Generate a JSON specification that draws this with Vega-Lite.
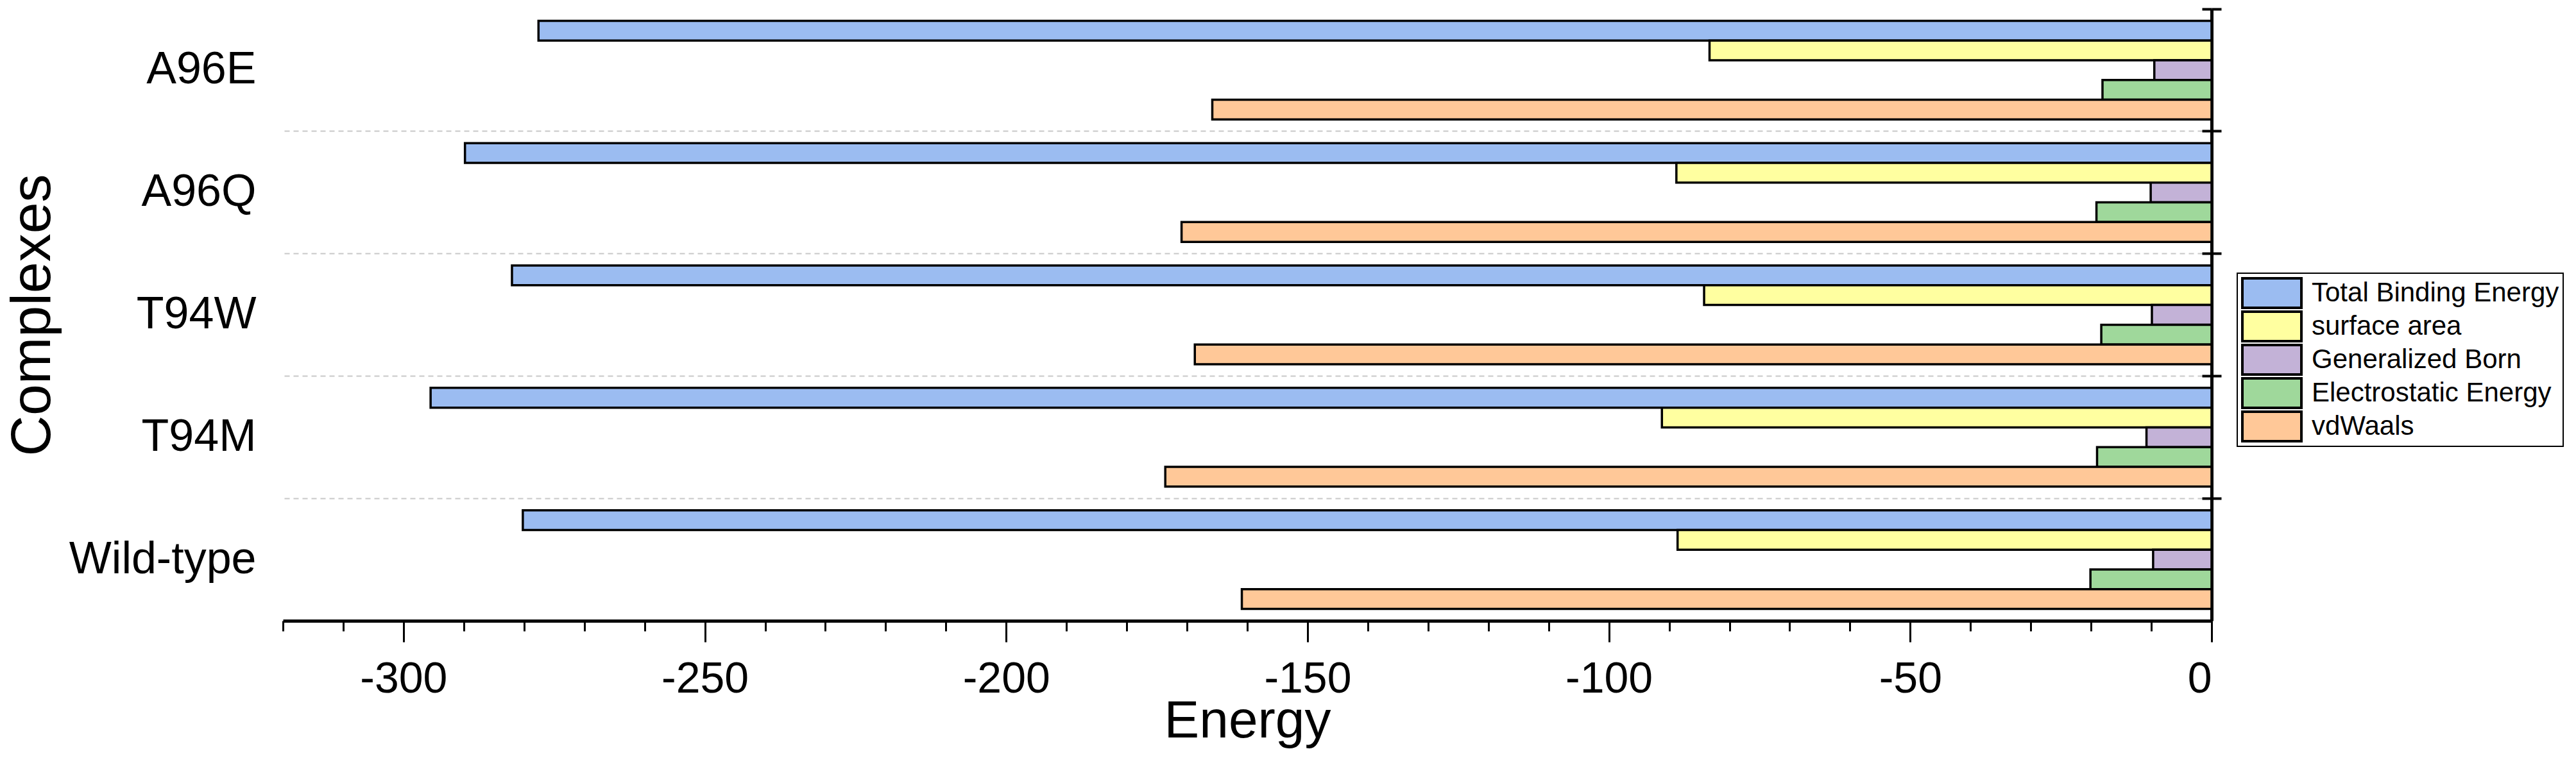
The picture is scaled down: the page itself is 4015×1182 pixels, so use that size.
{
  "$schema": "https://vega.github.io/schema/vega-lite/v6.json",
  "autosize": {"type": "none"},
  "padding": {"left": 441, "top": 14, "right": 568, "bottom": 214},
  "width": 3006,
  "height": 954,
  "background": "white",
  "config": {
    "view": {"stroke": null},
    "font": "Liberation Sans",
    "axis": {
      "labelFont": "Liberation Sans",
      "titleFont": "Liberation Sans",
      "labelColor": "black",
      "titleColor": "black",
      "titleFontWeight": "normal",
      "domainColor": "black",
      "tickColor": "black",
      "labelLimit": 0,
      "grid": false
    },
    "legend": {
      "labelFont": "Liberation Sans",
      "labelColor": "black",
      "labelLimit": 0,
      "strokeColor": "black",
      "strokeWidth": 2
    }
  },
  "data": {
    "values": [
      {"complex": "A96E", "component": "Total Binding Energy", "energy": -277.6},
      {"complex": "A96E", "component": "surface area", "energy": -83.3},
      {"complex": "A96E", "component": "Generalized Born", "energy": -9.5},
      {"complex": "A96E", "component": "Electrostatic Energy", "energy": -18.1},
      {"complex": "A96E", "component": "vdWaals", "energy": -165.8},
      {"complex": "A96Q", "component": "Total Binding Energy", "energy": -289.8},
      {"complex": "A96Q", "component": "surface area", "energy": -88.8},
      {"complex": "A96Q", "component": "Generalized Born", "energy": -10.1},
      {"complex": "A96Q", "component": "Electrostatic Energy", "energy": -19.1},
      {"complex": "A96Q", "component": "vdWaals", "energy": -170.9},
      {"complex": "T94W", "component": "Total Binding Energy", "energy": -282.0},
      {"complex": "T94W", "component": "surface area", "energy": -84.2},
      {"complex": "T94W", "component": "Generalized Born", "energy": -9.9},
      {"complex": "T94W", "component": "Electrostatic Energy", "energy": -18.3},
      {"complex": "T94W", "component": "vdWaals", "energy": -168.7},
      {"complex": "T94M", "component": "Total Binding Energy", "energy": -295.5},
      {"complex": "T94M", "component": "surface area", "energy": -91.2},
      {"complex": "T94M", "component": "Generalized Born", "energy": -10.8},
      {"complex": "T94M", "component": "Electrostatic Energy", "energy": -19.0},
      {"complex": "T94M", "component": "vdWaals", "energy": -173.6},
      {"complex": "Wild-type", "component": "Total Binding Energy", "energy": -280.2},
      {"complex": "Wild-type", "component": "surface area", "energy": -88.6},
      {"complex": "Wild-type", "component": "Generalized Born", "energy": -9.7},
      {"complex": "Wild-type", "component": "Electrostatic Energy", "energy": -20.1},
      {"complex": "Wild-type", "component": "vdWaals", "energy": -160.9}
    ]
  },
  "resolve": {"axis": {"x": "independent", "y": "independent"}},
  "layer": [
    {
      "mark": {"type": "bar", "stroke": "black", "strokeWidth": 3.5},
      "encoding": {
        "x": {
          "field": "energy",
          "type": "quantitative",
          "scale": {"domain": [-320, 0], "nice": false, "zero": false},
          "axis": {
            "orient": "bottom",
            "values": [-300, -250, -200, -150, -100, -50, 0],
            "labelExpr": "'' + datum.value",
            "labelFontSize": 68,
            "labelPadding": 24,
            "tickSize": 33,
            "tickWidth": 3,
            "domainWidth": 5,
            "title": "Energy",
            "titleFontSize": 82,
            "titlePadding": -9
          }
        },
        "y": {
          "field": "complex",
          "type": "nominal",
          "sort": ["A96E", "A96Q", "T94W", "T94M", "Wild-type"],
          "scale": {"paddingInner": 0, "paddingOuter": 0},
          "axis": {
            "orient": "left",
            "domain": false,
            "ticks": false,
            "labelFontSize": 70,
            "labelPadding": 42,
            "title": "Complexes",
            "titleFontSize": 88,
            "titleBaseline": "alphabetic",
            "titleX": -364,
            "titleY": 477
          }
        },
        "yOffset": {
          "field": "component",
          "type": "nominal",
          "sort": ["Total Binding Energy", "surface area", "Generalized Born", "Electrostatic Energy", "vdWaals"],
          "scale": {"paddingInner": 0, "paddingOuter": 0.6}
        },
        "color": {
          "field": "component",
          "type": "nominal",
          "scale": {
            "domain": ["Total Binding Energy", "surface area", "Generalized Born", "Electrostatic Energy", "vdWaals"],
            "range": ["#9BBCF1", "#FFFFA0", "#C3B2D7", "#9FD89B", "#FFC898"]
          },
          "legend": {
            "orient": "none",
            "legendX": 3046,
            "legendY": 412,
            "title": null,
            "symbolType": "M-2,-1H2V1H-2Z",
            "symbolSize": 2116,
            "symbolStrokeColor": "black",
            "symbolStrokeWidth": 4,
            "symbolOpacity": 1,
            "symbolOffset": 23,
            "labelOffset": 37,
            "labelFontSize": 42,
            "clipHeight": 50,
            "rowPadding": 2,
            "padding": 6
          }
        }
      }
    },
    {
      "mark": {"type": "bar", "opacity": 0},
      "encoding": {
        "x": {
          "field": "energy",
          "type": "quantitative",
          "scale": {"domain": [-320, 0], "nice": false, "zero": false},
          "axis": {
            "orient": "bottom",
            "values": [-320, -310, -300, -290, -280, -270, -260, -250, -240, -230, -220, -210, -200, -190, -180, -170, -160, -150, -140, -130, -120, -110, -100, -90, -80, -70, -60, -50, -40, -30, -20, -10, 0],
            "labels": false,
            "domain": false,
            "tickSize": 16,
            "tickWidth": 3,
            "title": null
          }
        },
        "y": {
          "field": "complex",
          "type": "nominal",
          "sort": ["A96E", "A96Q", "T94W", "T94M", "Wild-type"],
          "scale": {"paddingInner": 0, "paddingOuter": 0},
          "axis": {
            "orient": "right",
            "bandPosition": 0,
            "domainWidth": 5,
            "tickSize": 15,
            "tickWidth": 4,
            "labels": false,
            "title": null,
            "grid": true,
            "gridColor": "#c8c8c8",
            "gridWidth": 2,
            "gridDash": [8, 6],
            "gridOpacity": {"condition": {"test": "datum.value === 'A96E'", "value": 0}, "value": 1}
          }
        }
      }
    },
    {
      "mark": {"type": "bar", "opacity": 0},
      "encoding": {
        "x": {
          "field": "energy",
          "type": "quantitative",
          "scale": {"domain": [-320, 0], "nice": false, "zero": false},
          "axis": null
        },
        "y": {
          "field": "complex",
          "type": "nominal",
          "sort": ["A96E", "A96Q", "T94W", "T94M", "Wild-type"],
          "scale": {"paddingInner": 0, "paddingOuter": 0},
          "axis": {
            "orient": "right",
            "bandPosition": 0,
            "domain": false,
            "tickSize": -15,
            "tickWidth": 4,
            "labels": false,
            "title": null,
            "grid": false
          }
        }
      }
    }
  ]
}
